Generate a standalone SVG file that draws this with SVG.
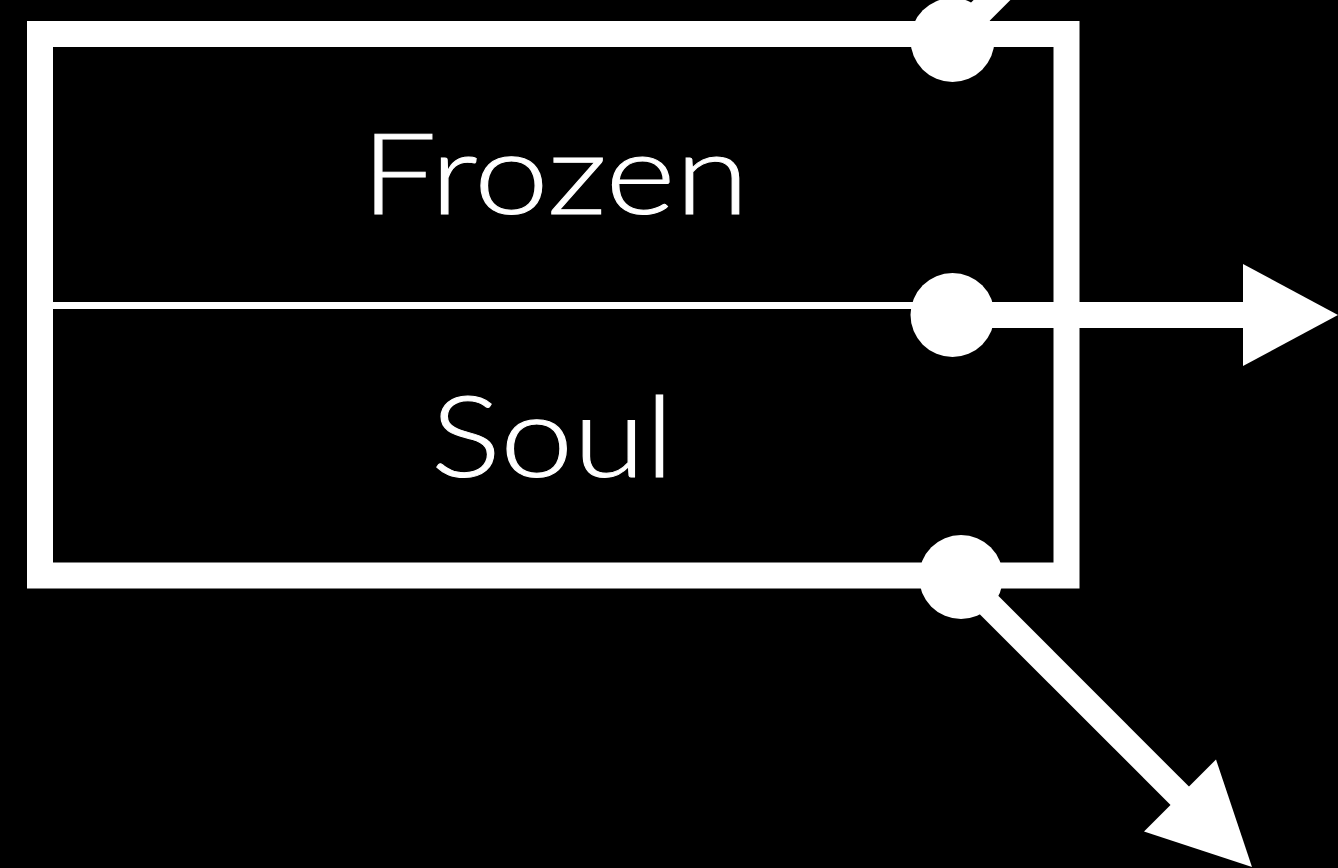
<svg xmlns="http://www.w3.org/2000/svg" width="1338" height="868" viewBox="0 0 1338 868">
<style>
.lbl{font-family:Lato,"Noto Sans",sans-serif;font-weight:300;font-size:113px;fill:#fff;text-anchor:middle;stroke:#fff;stroke-width:1}
.wire{stroke:#fff;stroke-width:26;fill:none}
.dot{fill:#fff}
.head{fill:#fff}
</style>
<rect x="0" y="0" width="1338" height="868" fill="#000"/>
<g id="node-frozen-soul">
<rect x="40" y="34" width="1026.5" height="541.5" fill="none" stroke="#fff" stroke-width="26"/>
<line x1="53" y1="305.5" x2="1053" y2="305.5" stroke="#fff" stroke-width="7"/>
<text class="lbl" x="555" y="214" textLength="388" lengthAdjust="spacingAndGlyphs">Frozen</text>
<text class="lbl" x="552.5" y="477" textLength="243" lengthAdjust="spacingAndGlyphs">Soul</text>
</g>
<g id="connectors">
<line class="wire" x1="952" y1="40" x2="1010" y2="-18"/>
<circle class="dot" cx="952.5" cy="40" r="42"/>
<line class="wire" x1="952" y1="315" x2="1250" y2="315"/>
<circle class="dot" cx="952.5" cy="315" r="42"/>
<polygon class="head" points="1243,264 1338,315 1243,366"/>
<line class="wire" x1="961" y1="577" x2="1185" y2="801"/>
<circle class="dot" cx="961" cy="577" r="42"/>
<polygon class="head" points="1216,759.5 1252,867 1144,831.5"/>
</g>
</svg>
